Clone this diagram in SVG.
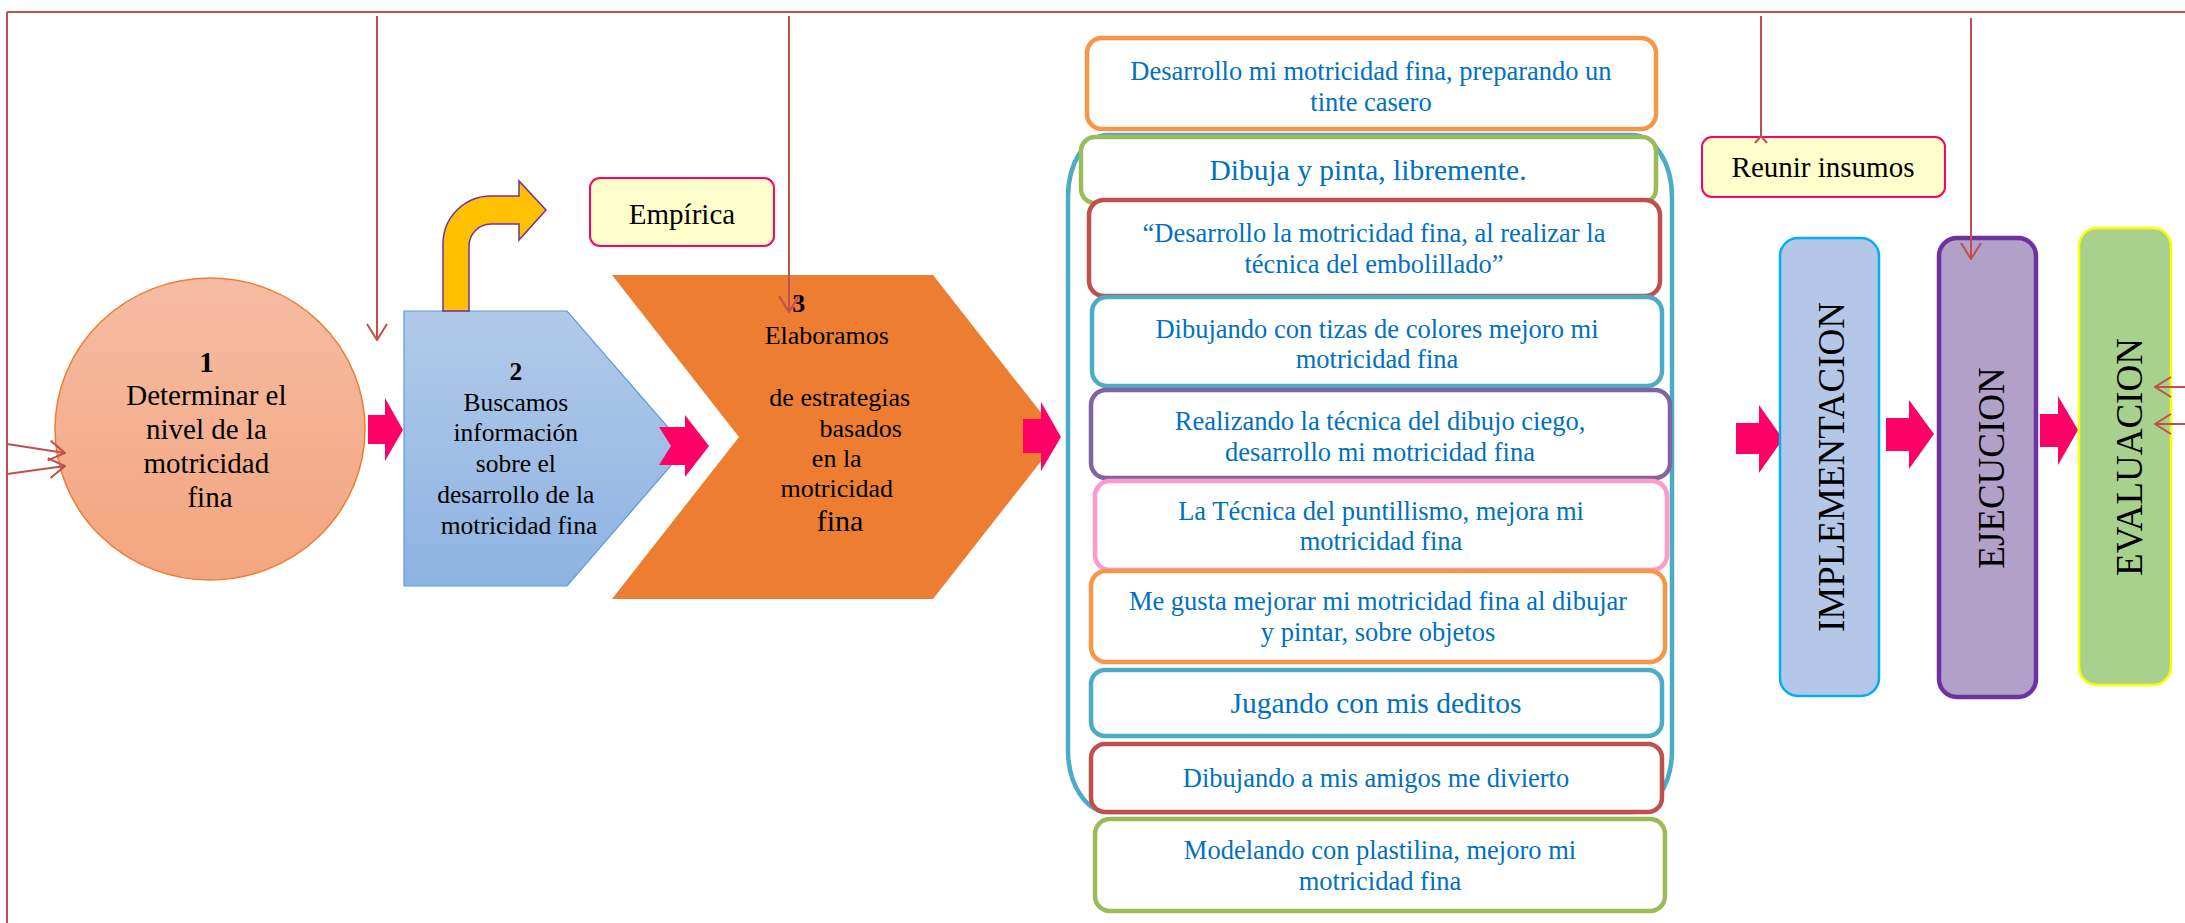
<svg xmlns="http://www.w3.org/2000/svg" width="2185" height="923" viewBox="0 0 2185 923">
<defs>
  <linearGradient id="gCircle" x1="0" y1="0" x2="0" y2="1">
    <stop offset="0" stop-color="#F5BCA3"/>
    <stop offset="1" stop-color="#F4A57F"/>
  </linearGradient>
  <linearGradient id="gPent" x1="0" y1="0" x2="0" y2="1">
    <stop offset="0" stop-color="#B2CAE9"/>
    <stop offset="1" stop-color="#8DB3E2"/>
  </linearGradient>
  <marker id="open" viewBox="0 0 18 22" markerWidth="18" markerHeight="22" refX="17" refY="11" orient="auto" markerUnits="userSpaceOnUse">
    <path d="M1,1 L17,11 L1,21" fill="none" stroke="#C0504D" stroke-width="2"/>
  </marker>
  <style>
    .frame{fill:none;stroke:#C0504D;stroke-width:2}
    .arr{marker-end:url(#open)}
    .pink{fill:#FF0066}
    .lbox{fill:#FFFFFF;stroke-width:4.5}
    .ltxt{font-family:"Liberation Serif","Times New Roman",serif;font-size:26.5px;fill:#0070C0;text-anchor:middle}
    .ltxt.big{font-size:29.5px}
    .ntxt{font-family:"Liberation Serif","Times New Roman",serif;fill:#000000;text-anchor:middle}
    .vtxt{font-family:"Liberation Serif","Times New Roman",serif;font-size:37px;fill:#000000;text-anchor:middle}
  </style>
</defs>
<rect width="2185" height="923" fill="#FFFFFF"/>

<g id="node-bracket">
  <rect x="1068" y="135" width="604" height="677" rx="40" ry="62" fill="none" stroke="#4BACC6" stroke-width="4.5"/>
</g>

<g id="node-1">
  <ellipse cx="210" cy="429" rx="155" ry="151" fill="url(#gCircle)" stroke="#ED7D31" stroke-width="1.5"/>
  <text class="ntxt" font-size="29">
    <tspan x="210" y="372" font-weight="bold">1</tspan>
    <tspan x="210" y="405">Determinar el</tspan>
    <tspan x="210" y="439">nivel de la</tspan>
    <tspan x="210" y="473">motricidad</tspan>
    <tspan x="210" y="507">fina</tspan>
  </text>
</g>

<g id="node-2">
  <polygon points="404,311 567,311 686,448 567,586 404,586" fill="url(#gPent)" stroke="#5B9BD5" stroke-width="1.2"/>
  <text class="ntxt" font-size="25.5">
    <tspan x="519" y="380" font-weight="bold">2</tspan>
    <tspan x="519" y="411">Buscamos</tspan>
    <tspan x="519" y="441">información</tspan>
    <tspan x="519" y="472">sobre el</tspan>
    <tspan x="519" y="503">desarrollo de la</tspan>
    <tspan x="519" y="534">motricidad fina</tspan>
  </text>
</g>

<g id="node-bent-arrow">
  <path d="M443,311 V244 A48,48 0 0 1 491,196 H519 V181 L546,210 L519,240 V224 H491 A22,22 0 0 0 469,246 V311 Z" fill="#FFC000" stroke="#7030A0" stroke-width="1.5"/>
</g>

<g id="node-empirica">
  <rect x="590" y="178" width="184" height="68" rx="10" fill="#FFFFCC" stroke="#FF0066" stroke-width="2"/>
  <text class="ntxt" x="682" y="224" font-size="29">Empírica</text>
</g>

<g id="node-3">
  <polygon points="612,275 933,275 1060,437 933,599 612,599 739,437" fill="#ED7D31"/>
  <text class="ntxt" font-size="26">
    <tspan x="802" y="312" font-weight="bold">3</tspan>
    <tspan x="830" y="344">Elaboramos</tspan>
    <tspan x="843" y="406">de estrategias</tspan>
    <tspan x="864" y="437">basados</tspan>
    <tspan x="840" y="467">en la</tspan>
    <tspan x="840" y="497">motricidad</tspan>
    <tspan x="840" y="531" font-size="30">fina</tspan>
  </text>
</g>

<g id="block-arrows">
  <polygon class="pink" points="368,415 385,415 385,398 403,430 385,461 385,444 368,444"/>
  <polygon class="pink" points="659,427 685,427 685,415 709,446 685,477 685,465 659,465 671,446"/>
  <polygon class="pink" points="1023,419 1041,419 1041,402 1061,437 1041,471 1041,453 1023,453"/>
  <polygon class="pink" points="1736,423 1759,423 1759,405 1783,439 1759,473 1759,454 1736,454"/>
  <polygon class="pink" points="1886,418 1909,418 1909,400 1934,434 1909,469 1909,451 1886,451"/>
  <polygon class="pink" points="2040,414 2058,414 2058,396 2078,430 2058,465 2058,447 2040,447"/>
</g>

<g id="item-1">
  <rect class="lbox" x="1087" y="38" width="569" height="91" rx="15" stroke="#F79646"/>
  <text class="ltxt"><tspan x="1371" y="80">Desarrollo mi motricidad fina, preparando un</tspan><tspan x="1371" y="111">tinte casero</tspan></text>
</g>
<g id="item-2">
  <rect class="lbox" x="1081" y="137" width="575" height="66" rx="14" stroke="#9BBB59"/>
  <text class="ltxt big" x="1368" y="180">Dibuja y pinta, libremente.</text>
</g>
<g id="item-3">
  <rect class="lbox" x="1089" y="200" width="571" height="96" rx="15" stroke="#C0504D"/>
  <text class="ltxt"><tspan x="1374" y="242">“Desarrollo la motricidad fina, al realizar la</tspan><tspan x="1374" y="273">técnica del embolillado”</tspan></text>
</g>
<g id="item-4">
  <rect class="lbox" x="1092" y="297" width="570" height="89" rx="15" stroke="#4BACC6"/>
  <text class="ltxt"><tspan x="1377" y="338">Dibujando con tizas de colores mejoro mi</tspan><tspan x="1377" y="368">motricidad fina</tspan></text>
</g>
<g id="item-5">
  <rect class="lbox" x="1091" y="390" width="579" height="88" rx="15" stroke="#8064A2"/>
  <text class="ltxt"><tspan x="1380" y="430">Realizando la técnica del dibujo ciego,</tspan><tspan x="1380" y="461">desarrollo mi motricidad fina</tspan></text>
</g>
<g id="item-6">
  <rect class="lbox" x="1095" y="481" width="572" height="89" rx="15" stroke="#FF99CC"/>
  <text class="ltxt"><tspan x="1381" y="520">La Técnica del puntillismo, mejora mi</tspan><tspan x="1381" y="550">motricidad fina</tspan></text>
</g>
<g id="item-7">
  <rect class="lbox" x="1091" y="571" width="574" height="91" rx="15" stroke="#F79646"/>
  <text class="ltxt"><tspan x="1378" y="610">Me gusta mejorar mi motricidad fina al dibujar</tspan><tspan x="1378" y="641">y pintar, sobre objetos</tspan></text>
</g>
<g id="item-8">
  <rect class="lbox" x="1091" y="670" width="571" height="66" rx="14" stroke="#4BACC6"/>
  <text class="ltxt big" x="1376" y="713">Jugando con mis deditos</text>
</g>
<g id="item-9">
  <rect class="lbox" x="1091" y="744" width="571" height="68" rx="14" stroke="#C0504D"/>
  <text class="ltxt" x="1376" y="787">Dibujando a mis amigos me divierto</text>
</g>
<g id="item-10">
  <rect class="lbox" x="1095" y="819" width="570" height="92" rx="15" stroke="#9BBB59"/>
  <text class="ltxt"><tspan x="1380" y="859">Modelando con plastilina, mejoro mi</tspan><tspan x="1380" y="890">motricidad fina</tspan></text>
</g>

<g id="node-reunir">
  <rect x="1702" y="137" width="243" height="60" rx="10" fill="#FFFFCC" stroke="#FF0066" stroke-width="2"/>
  <text class="ntxt" x="1823" y="177" font-size="29">Reunir insumos</text>
</g>

<g id="node-implementacion">
  <rect x="1780" y="238" width="99" height="458" rx="18" fill="#B4C7E7" stroke="#00B0F0" stroke-width="2.5"/>
  <text class="vtxt" transform="translate(1844,467) rotate(-90)">IMPLEMENTACION</text>
</g>
<g id="node-ejecucion">
  <rect x="1939" y="238" width="97" height="459" rx="18" fill="#B1A0C7" stroke="#7030A0" stroke-width="4.5"/>
  <text class="vtxt" transform="translate(2004,468) rotate(-90)">EJECUCION</text>
</g>
<g id="node-evaluacion">
  <rect x="2079" y="228" width="92" height="457" rx="18" fill="#A9D18E" stroke="#FFFF00" stroke-width="2.5"/>
  <text class="vtxt" transform="translate(2142,457) rotate(-90)">EVALUACION</text>
</g>

<g id="connectors">
  <line class="frame" x1="7" y1="12" x2="2185" y2="12"/>
  <line class="frame" x1="7" y1="12" x2="7" y2="923"/>
  <line class="frame arr" x1="377" y1="16" x2="377" y2="340"/>
  <line class="frame arr" x1="789" y1="16" x2="789" y2="312"/>
  <line class="frame" x1="1761" y1="16" x2="1761" y2="138"/>
  <path class="frame" d="M1755,143 L1761,136 L1767,143"/>
  <line class="frame arr" x1="1971" y1="18" x2="1971" y2="259"/>
  <line class="frame arr" x1="7" y1="444" x2="65" y2="453"/>
  <line class="frame arr" x1="7" y1="474" x2="65" y2="466"/>
  <line class="frame arr" x1="2185" y1="387" x2="2155" y2="387"/>
  <line class="frame arr" x1="2185" y1="424" x2="2155" y2="424"/>
</g>
</svg>
